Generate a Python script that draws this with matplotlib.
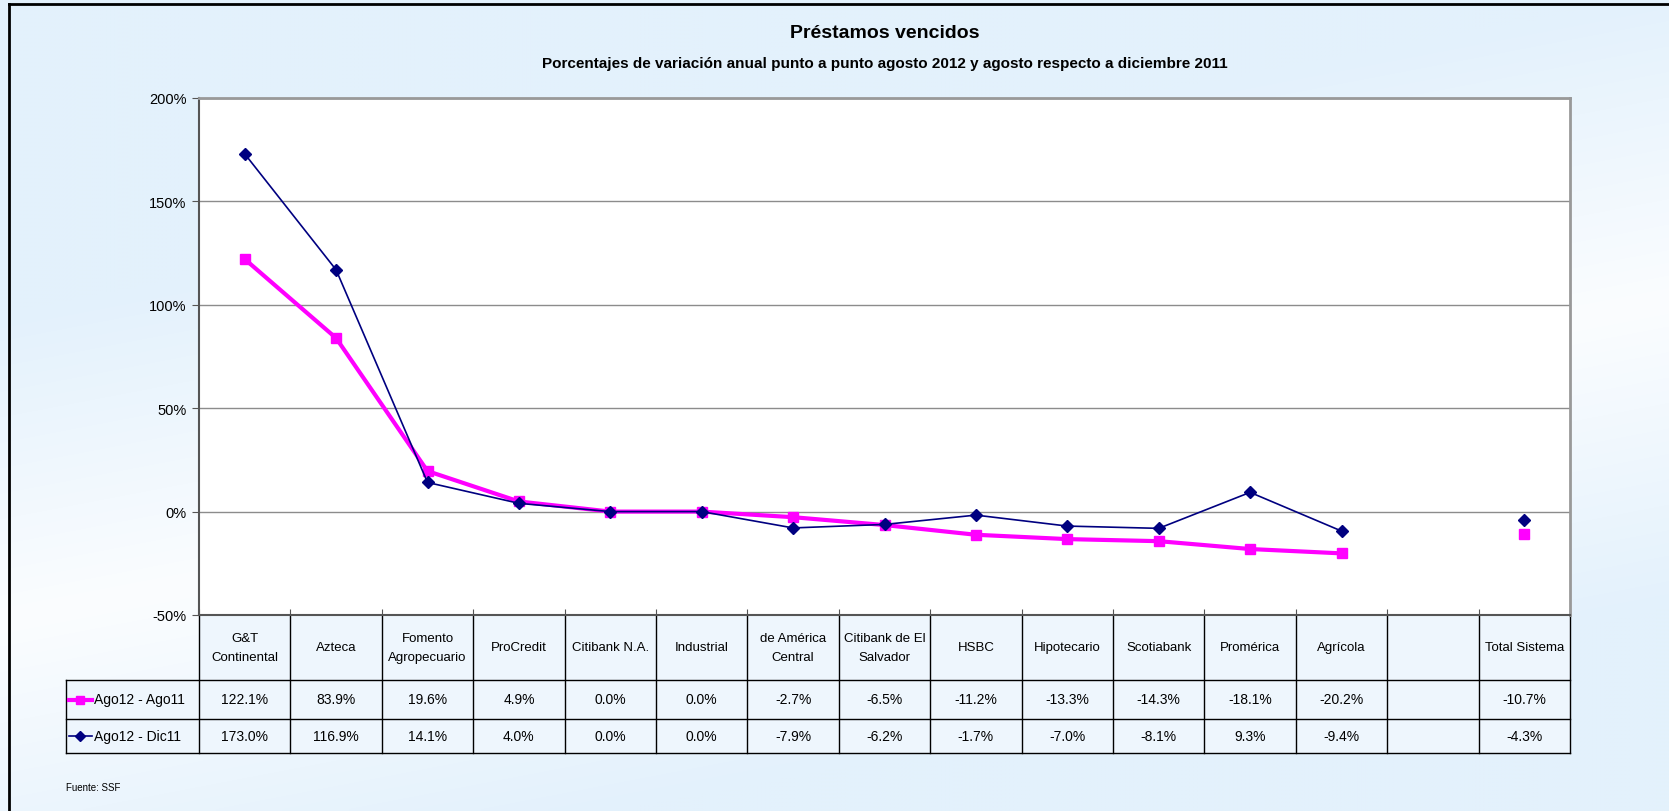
import matplotlib
matplotlib.use('Agg')
import matplotlib.pyplot as plt
import numpy as np
from matplotlib.font_manager import fontManager
from matplotlib.transforms import blended_transform_factory
from matplotlib.patches import Rectangle

# ---------------- data ----------------
categories = ["G&T\nContinental", "Azteca", "Fomento\nAgropecuario", "ProCredit",
              "Citibank N.A.", "Industrial", "de América\nCentral",
              "Citibank de El\nSalvador", "HSBC", "Hipotecario", "Scotiabank",
              "Promérica", "Agrícola", "", "Total Sistema"]
series_names = ["Ago12 - Ago11", "Ago12 - Dic11"]
ago12_ago11 = [122.1, 83.9, 19.6, 4.9, 0.0, 0.0, -2.7, -6.5, -11.2, -13.3, -14.3,
               -18.1, -20.2, np.nan, -10.7]
ago12_dic11 = [173.0, 116.9, 14.1, 4.0, 0.0, 0.0, -7.9, -6.2, -1.7, -7.0, -8.1,
               9.3, -9.4, np.nan, -4.3]
yticks = [-50, 0, 50, 100, 150, 200]
title = "Préstamos vencidos"
subtitle = "Porcentajes de variación anual punto a punto agosto 2012 y agosto respecto a diciembre 2011"
source = "Fuente: SSF"

# ---------------- fonts ----------------
names = {f.name for f in fontManager.ttflist}
fam = [f for f in ["Liberation Sans Narrow", "Liberation Sans", "DejaVu Sans"] if f in names]
plt.rcParams['font.family'] = fam

W, H = 1669, 812
fig = plt.figure(figsize=(W / 100, H / 100), dpi=100)

def px_axes(x0, y0, x1, y1, **kw):
    return fig.add_axes([x0 / W, 1 - y1 / H, (x1 - x0) / W, (y1 - y0) / H], **kw)

# background with soft diagonal gradient (light band from upper right to lower left)
bg = fig.add_axes([0, 0, 1, 1], zorder=-10)
yy, xx = np.mgrid[0:H:4, 0:W:4].astype(float)
x1p, y1p, x2p, y2p = W, 300.0, 0.0, 620.0
nx, ny = -(y2p - y1p), (x2p - x1p)
nrm = np.hypot(nx, ny)
d = np.abs((xx - x1p) * nx + (yy - y1p) * ny) / nrm
w = np.clip(d / 300.0, 0, 1)[..., None]
c_light = np.array([0xFB, 0xFD, 0xFF]) / 255
c_blue = np.array([0xE3, 0xF1, 0xFC]) / 255
img = c_light * (1 - w) + c_blue * w
bg.imshow(img, extent=[0, W, H, 0], aspect='auto', interpolation='bilinear')
bg.set_xlim(0, W)
bg.set_ylim(H, 0)
bg.axis('off')
bg.plot([9, W], [5, 5], color='black', lw=2, clip_on=False)
bg.plot([9, 9], [5, H], color='black', lw=2, clip_on=False)

# titles
fig.text(0.5 * (199 + 1570) / W, 1 - 33 / H, title, ha='center', va='center',
         fontsize=14, fontweight='bold')
fig.text(0.5 * (199 + 1570) / W, 1 - 64 / H, subtitle, ha='center', va='center',
         fontsize=11, fontweight='bold')
fig.text(66 / W, 1 - 788 / H, source, ha='left', va='center', fontsize=7)

# ---------------- main plot ----------------
PL, PT, PR, PB = 199, 99, 1570, 616
ax = px_axes(PL, PT, PR, PB)
ax.set_facecolor('white')
x = np.arange(len(categories))
ax.set_xlim(-0.5, len(categories) - 0.5)
ax.set_ylim(min(yticks), max(yticks))
ax.set_yticks(yticks)
ax.set_yticklabels([f"{v}%" for v in yticks], fontsize=10.5)
ax.yaxis.grid(True, color='#8C8C8C', lw=1)
ax.set_axisbelow(True)
ax.set_xticks(np.arange(-0.5, len(categories), 1))
ax.set_xticklabels([])
ax.tick_params(axis='x', direction='in', length=4, color='#555555')
ax.tick_params(axis='y', direction='out', length=5, color='#555555', pad=4)
for s in ['top', 'right']:
    ax.spines[s].set_color('#999999')
    ax.spines[s].set_linewidth(2)
ax.spines['left'].set_color('#555555')
ax.spines['left'].set_linewidth(1.5)
ax.spines['bottom'].set_color('#555555')
ax.spines['bottom'].set_linewidth(1.5)

styles = [dict(color='#FF00FF', lw=3, marker='s', ms=7),
          dict(color='#000080', lw=1.2, marker='D', ms=6)]
for vals, st in zip([ago12_ago11, ago12_dic11], styles):
    ax.plot(x, vals, clip_on=False, zorder=3, **st)

# ---------------- data table ----------------
T0, T1, T2, T3 = 616, 681, 720, 754
LX = 66
tr = blended_transform_factory(ax.transData, bg.transData)
cell_fc = '#EEF6FD'
n = len(categories)
bg.add_patch(Rectangle((-0.5, T0), n, T1 - T0, transform=tr, facecolor=cell_fc,
                       edgecolor='none', zorder=1))
bg.add_patch(Rectangle((LX, T1), PR - LX, T3 - T1, facecolor=cell_fc,
                       edgecolor='none', zorder=1))
bg.plot([PL, PR], [T0, T0], color='black', lw=1.2, zorder=2)
for yv in [T1, T2, T3]:
    bg.plot([LX, PR], [yv, yv], color='black', lw=1, zorder=2)
for b in np.arange(-0.5, n + 0.5, 1):
    bg.plot([b, b], [T0, T3], color='black', lw=1, transform=tr, zorder=2)
bg.plot([LX, LX], [T1, T3], color='black', lw=1, zorder=2)

fs = 9.5
for i, c in enumerate(categories):
    bg.text(i, (T0 + T1) / 2, c, transform=tr, ha='center', va='center',
            fontsize=fs, linespacing=1.75, zorder=3)
rows = [(T1 + T2) / 2, (T2 + T3) / 2]
for vals, yc, name, st in zip([ago12_ago11, ago12_dic11], rows, series_names, styles):
    for i, v in enumerate(vals):
        if not np.isnan(v):
            bg.text(i, yc, f"{v:.1f}%", transform=tr, ha='center', va='center',
                    fontsize=fs + 0.5, zorder=3)
    bg.plot([LX + 3, LX + 26], [yc, yc], color=st['color'], lw=st['lw'], zorder=3)
    bg.plot([LX + 14], [yc], color=st['color'], marker=st['marker'], ms=st['ms'] - 1,
            lw=0, zorder=3)
    bg.text(LX + 28, yc, name, ha='left', va='center', fontsize=fs + 0.5, zorder=3)

fig.savefig('out.png', dpi=100)
